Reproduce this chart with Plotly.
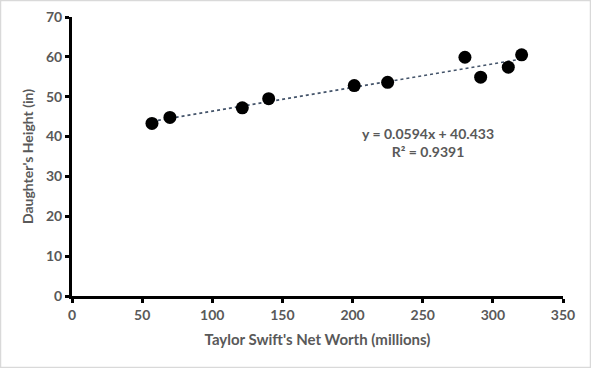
import numpy as np
import plotly.graph_objects as go

net_worth = [57.0, 69.8, 121.4, 140.2, 201.2, 225.0, 280.1, 291.3, 311.0, 320.5]
height = [43.3, 44.8, 47.2, 49.5, 52.8, 53.6, 59.9, 54.9, 57.4, 60.5]
trend_slope = 0.0594
trend_intercept = 40.433
r_squared = 0.9391
x_ticks = [0, 50, 100, 150, 200, 250, 300, 350]
y_ticks = [0, 10, 20, 30, 40, 50, 60, 70]

x_line = np.array([min(net_worth), max(net_worth)])
y_line = trend_slope * x_line + trend_intercept

gray = "#595959"
font_family = "Lato, 'Open Sans', sans-serif"

fig = go.Figure()
fig.add_trace(go.Scatter(x=x_line, y=y_line, mode="lines",
                         line=dict(color="#44546A", width=1.6, dash="dot"),
                         showlegend=False, hoverinfo="skip"))
fig.add_trace(go.Scatter(x=net_worth, y=height, mode="markers",
                         marker=dict(color="black", size=13),
                         showlegend=False))

axis_common = dict(showgrid=False, zeroline=False, automargin=False,
                   showline=True, linecolor="black", linewidth=3,
                   ticks="outside", ticklen=4, tickwidth=3, tickcolor="black",
                   tickfont=dict(size=14, color=gray, family=font_family, weight="bold"))

fig.update_layout(
    width=591, height=368,
    margin=dict(l=72, r=28, t=17, b=72),
    paper_bgcolor="white", plot_bgcolor="white",
    font=dict(family=font_family, color=gray),
    xaxis=dict(range=[0, 350], tickvals=x_ticks, **axis_common,
               title=dict(text="Taylor Swift's Net Worth (millions)",
                          font=dict(size=15, color=gray, weight="bold"), standoff=13)),
    yaxis=dict(range=[0, 70], tickvals=y_ticks, **axis_common,
               title=dict(text="Daughter's Height (in)",
                          font=dict(size=14, color=gray, weight="bold"), standoff=10)),
    annotations=[dict(
        x=253.5, y=38.5, xref="x", yref="y", showarrow=False,
        text=f"y = {trend_slope}x + {trend_intercept}<br>R² = {r_squared}",
        font=dict(size=14, color=gray, family=font_family, weight="bold"), align="center")],
    shapes=[dict(type="rect", xref="paper", yref="paper", x0=-71.5/491, x1=1+27.5/491,
                 y0=-71.5/279, y1=1+16.5/279, line=dict(color="#d9d9d9", width=1.5))],
)

fig.write_html("out.html", config={"displayModeBar": False},
               post_script="document.body.style.margin='0px';document.body.style.overflow='hidden';")
